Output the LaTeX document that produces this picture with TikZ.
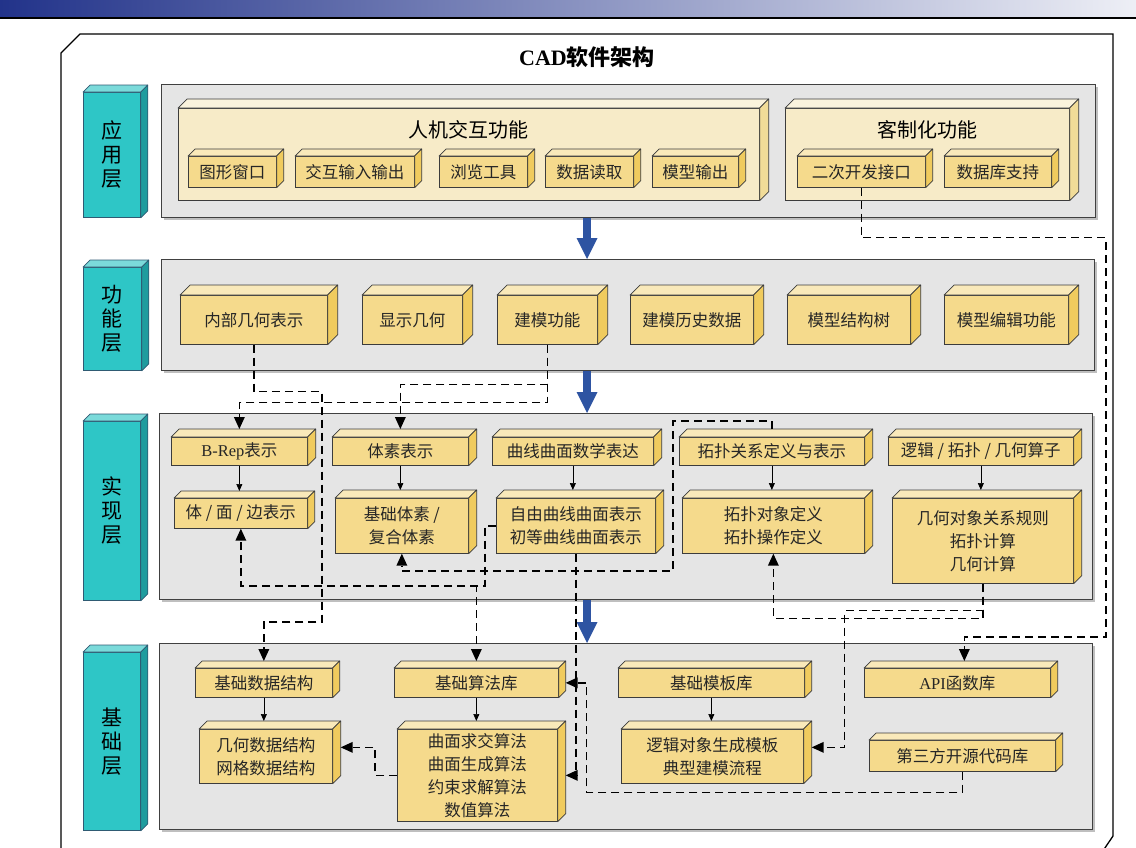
\documentclass[tikz,border=0pt]{standalone}
\usepackage{fontspec}
\setmainfont{Liberation Serif}
\newfontfamily\cjk{Noto Sans CJK SC}
\usetikzlibrary{arrows.meta,calc,shadows}

\definecolor{yfront}{HTML}{F5DA8C}
\definecolor{ytop}{HTML}{F9E9BA}
\definecolor{yside}{HTML}{F0CB5E}
\definecolor{cfront}{HTML}{F7EBC8}
\definecolor{ctop}{HTML}{FAF3DD}
\definecolor{cside}{HTML}{F1DC98}
\definecolor{tfront}{HTML}{2EC6C6}
\definecolor{ttop}{HTML}{7BDADA}
\definecolor{tside}{HTML}{1F9C9E}
\definecolor{tline}{HTML}{2F5B73}
\definecolor{boxline}{HTML}{3C3C3C}
\definecolor{arrblue}{HTML}{2E54A2}
\definecolor{barblue}{HTML}{22338A}
\definecolor{panelgray}{HTML}{E5E5E5}

% top and right faces of a box node: name, depth, top colour, side colour, line colour
\newcommand{\prism}[5]{%
  \filldraw[draw=#5, fill=#3, line width=0.7pt, line join=round] (#1.north west) -- ++(#2pt,#2pt)
    -- ([shift={(#2pt,#2pt)}]#1.north east) -- (#1.north east) -- cycle;
  \filldraw[draw=#5, fill=#4, line width=0.7pt, line join=round] (#1.north east) -- ++(#2pt,#2pt)
    -- ([shift={(#2pt,#2pt)}]#1.south east) -- (#1.south east) -- cycle;
}

\tikzset{
  panel/.style={draw=black!75, line width=0.9pt, fill=panelgray, anchor=north west, inner sep=0,
    drop shadow={shadow xshift=3pt, shadow yshift=-3pt, opacity=0.25, fill=black}},
  ybox/.style={draw=boxline, line width=0.7pt, fill=yfront, anchor=north west, inner sep=0,
    align=center, text=black!85, font=\cjk\fontsize{16.5}{23}\selectfont},
  cbox/.style={ybox, fill=cfront},
  tealbox/.style={draw=tline, line width=0.8pt, fill=tfront, anchor=north west, inner sep=0,
    align=center, font=\cjk\fontsize{21}{24}\selectfont},
  headtext/.style={font=\cjk\fontsize{20}{24}\selectfont},
  solidarr/.style={draw, line width=0.7pt, -{Triangle[length=7pt,width=6pt]}},
  dashline/.style={draw, line width=1.5pt, dash pattern=on 8pt off 5pt,
    -{Triangle[length=12pt,width=11pt,line width=0pt]}},
  bluearr/.style={draw=arrblue, line width=8pt, -{Triangle[length=21pt,width=21pt,line width=0pt]}}
}

\begin{document}
\begin{tikzpicture}[x=1pt,y=-1pt]
\useasboundingbox (0,0) rectangle (1136,847);

% slide header
\shade[left color=barblue, right color=barblue!8!white] (0,0) rectangle (1136,17);
\draw[line width=2pt] (0,18) -- (1136,18);

% outer frame
\draw[line width=1.3pt] (61,870) -- (61,53) -- (80,34) -- (1113,34) -- (1113,836) -- (1090,870);
\node[font=\bfseries\fontsize{22}{26}\selectfont] (ttl) at (587,57) {CAD{\cjk 软件架构}};

% layer panels
\node[panel, minimum width=934, minimum height=133] (papp) at (161,84) {};
\node[panel, minimum width=933, minimum height=111] (pfun) at (161,259) {};
\node[panel, minimum width=933, minimum height=186] (pimp) at (159,413) {};
\node[panel, minimum width=933, minimum height=186] (pbas) at (159,643) {};

% layer labels
\node[tealbox, minimum width=57, minimum height=125] (lapp) at (83,92) {应\\用\\层};
\node[tealbox, minimum width=58, minimum height=103] (lfun) at (83,267) {功\\能\\层};
\node[tealbox, minimum width=57, minimum height=179] (limp) at (83,421) {实\\现\\层};
\node[tealbox, minimum width=57, minimum height=178] (lbas) at (83,652) {基\\础\\层};
\foreach \n in {lapp,lfun,limp,lbas} {\prism{\n}{7}{ttop}{tside}{tline}}

% application layer
\node[cbox, minimum width=581, minimum height=92] (hci) at (178,108) {};
\node[cbox, minimum width=284, minimum height=92] (cust) at (785,108) {};
\prism{hci}{9}{ctop}{cside}{boxline}
\prism{cust}{9}{ctop}{cside}{boxline}
\node[headtext] (hcit) at (468,130) {人机交互功能};
\node[headtext] (custt) at (927,130) {客制化功能};

\node[ybox, minimum width=88, minimum height=31] (win) at (188,156) {图形窗口};
\node[ybox, minimum width=119, minimum height=31] (io) at (295,156) {交互输入输出};
\node[ybox, minimum width=88, minimum height=31] (brw) at (439,156) {浏览工具};
\node[ybox, minimum width=88, minimum height=31] (rd) at (545,156) {数据读取};
\node[ybox, minimum width=86, minimum height=31] (out) at (652,156) {模型输出};
\node[ybox, minimum width=128, minimum height=31] (sdk) at (797,156) {二次开发接口};
\node[ybox, minimum width=107, minimum height=31] (db) at (944,156) {数据库支持};
\foreach \n in {win,io,brw,rd,out,sdk,db} {\prism{\n}{7}{ytop}{yside}{boxline}}

% function layer
\node[ybox, minimum width=147, minimum height=49] (igeo) at (180,295) {内部几何表示};
\node[ybox, minimum width=100, minimum height=49] (dgeo) at (362,295) {显示几何};
\node[ybox, minimum width=100, minimum height=49] (mdl) at (497,295) {建模功能};
\node[ybox, minimum width=123, minimum height=49] (hist) at (630,295) {建模历史数据};
\node[ybox, minimum width=123, minimum height=49] (tree) at (787,295) {模型结构树};
\node[ybox, minimum width=124, minimum height=49] (edit) at (944,295) {模型编辑功能};
\foreach \n in {igeo,dgeo,mdl,hist,tree,edit} {\prism{\n}{10}{ytop}{yside}{boxline}}

% implementation layer
\node[ybox, minimum width=136, minimum height=28] (brep) at (171,437) {{\rmfamily B-Rep}表示};
\node[ybox, minimum width=136, minimum height=28] (vox) at (332,437) {体素表示};
\node[ybox, minimum width=161, minimum height=28] (cmath) at (492,437) {曲线曲面数学表达};
\node[ybox, minimum width=185, minimum height=28] (topo) at (679,437) {拓扑关系定义与表示};
\node[ybox, minimum width=185, minimum height=28] (ops) at (888,437) {逻辑 / 拓扑 / 几何算子};
\foreach \n in {brep,vox,cmath,topo,ops} {\prism{\n}{8}{ytop}{yside}{boxline}}

\node[ybox, minimum width=133, minimum height=30] (bfe) at (174,498) {体 / 面 / 边表示};
\node[ybox, minimum width=133, minimum height=55] (prim) at (335,498) {基础体素 /\\复合体素};
\node[ybox, minimum width=159, minimum height=55] (free) at (496,498) {自由曲线曲面表示\\初等曲线曲面表示};
\node[ybox, minimum width=182, minimum height=55] (tobj) at (682,498) {拓扑对象定义\\拓扑操作定义};
\node[ybox, minimum width=181, minimum height=85] (gcal) at (892,498) {几何对象关系规则\\拓扑计算\\几何计算};
\prism{bfe}{7}{ytop}{yside}{boxline}
\foreach \n in {prim,free,tobj,gcal} {\prism{\n}{8}{ytop}{yside}{boxline}}

% base layer
\node[ybox, minimum width=137, minimum height=29] (bds) at (195,668) {基础数据结构};
\node[ybox, minimum width=164, minimum height=29] (alg) at (394,668) {基础算法库};
\node[ybox, minimum width=186, minimum height=29] (tpl) at (618,668) {基础模板库};
\node[ybox, minimum width=186, minimum height=29] (api) at (864,668) {{\rmfamily API}函数库};
\foreach \n in {bds,alg,tpl,api} {\prism{\n}{7}{ytop}{yside}{boxline}}

\node[ybox, minimum width=133, minimum height=54] (gds) at (199,729) {几何数据结构\\网格数据结构};
\node[ybox, minimum width=160, minimum height=92] (algs) at (397,729) {曲面求交算法\\曲面生成算法\\约束求解算法\\数值算法};
\node[ybox, minimum width=182, minimum height=54] (ltpl) at (621,729) {逻辑对象生成模板\\典型建模流程};
\node[ybox, minimum width=186, minimum height=31] (oss) at (869,740) {第三方开源代码库};
\foreach \n in {gds,algs,ltpl} {\prism{\n}{8}{ytop}{yside}{boxline}}
\prism{oss}{7}{ytop}{yside}{boxline}

% layer to layer
\draw[bluearr] (587,0 |- papp.south) -- (587,0 |- pfun.north);
\draw[bluearr] (587,0 |- pfun.south) -- (587,0 |- pimp.north);
\draw[bluearr] (587,0 |- pimp.south) -- (587,0 |- pbas.north);

% solid links
\draw[solidarr] (brep.south) -- ($(brep.south |- bfe.north)+(0pt,7pt)$);
\draw[solidarr] (vox.south) -- ($(vox.south |- prim.north)+(0pt,8pt)$);
\draw[solidarr] (cmath.south) -- ($(cmath.south |- free.north)+(0pt,8pt)$);
\draw[solidarr] (topo.south) -- ($(topo.south |- tobj.north)+(0pt,8pt)$);
\draw[solidarr] (ops.south) -- ($(ops.south |- gcal.north)+(0pt,8pt)$);
\draw[solidarr] (bds.south) -- ($(bds.south |- gds.north)+(0pt,8pt)$);
\draw[solidarr] (alg.south) -- ($(alg.south |- algs.north)+(0pt,8pt)$);
\draw[solidarr] (tpl.south) -- ($(tpl.south |- ltpl.north)+(0pt,8pt)$);

% dashed links
\draw[dashline] (igeo.south) -- ++(0,47) -| (322,622) -| ($(bds.north)+(0pt,7pt)$);
\draw[dashline] (mdl.south) -- ++(0,40) -| ($(vox.north)+(0pt,8pt)$);
\draw[dashline] (mdl.south) -- ++(0,58) -| ($(brep.north)+(0pt,8pt)$);
\draw[dashline] ($(topo.north)+(0pt,8pt)$) -- ++(0,-8) -| (673,571) -| (prim.south);
\draw[dashline] (free.west) -- ++(-11,0) -- ++(0,60) -| (bfe.south);
\draw[dashline] (free.west) -- ++(-11,0) -- ++(0,60) -| ($(alg.north)+(0pt,7pt)$);
\draw[dashline] (free.south) |- ($(algs.east)+(8pt,0pt)$);
\draw[dashline] (oss.south) -- ++(0,21) -| ($(alg.east)+(28pt,0pt)$) -- ($(alg.east)+(7pt,0pt)$);
\draw[dashline] (gcal.south) -- ++(0,27) -| ($(ltpl.east)+(41pt,9pt)$) -- ($(ltpl.east)+(8pt,9pt)$);
\draw[dashline] (gcal.south) -- ++(0,35) -| (tobj.south);
\draw[dashline] (sdk.south) -- ++(0,50) -| (1106,637) -| ($(api.north)+(7pt,7pt)$);
\draw[dashline] (algs.west) -- ++(-22,0) |- ($(gds.east)+(8pt,9pt)$);
\end{tikzpicture}
\end{document}
